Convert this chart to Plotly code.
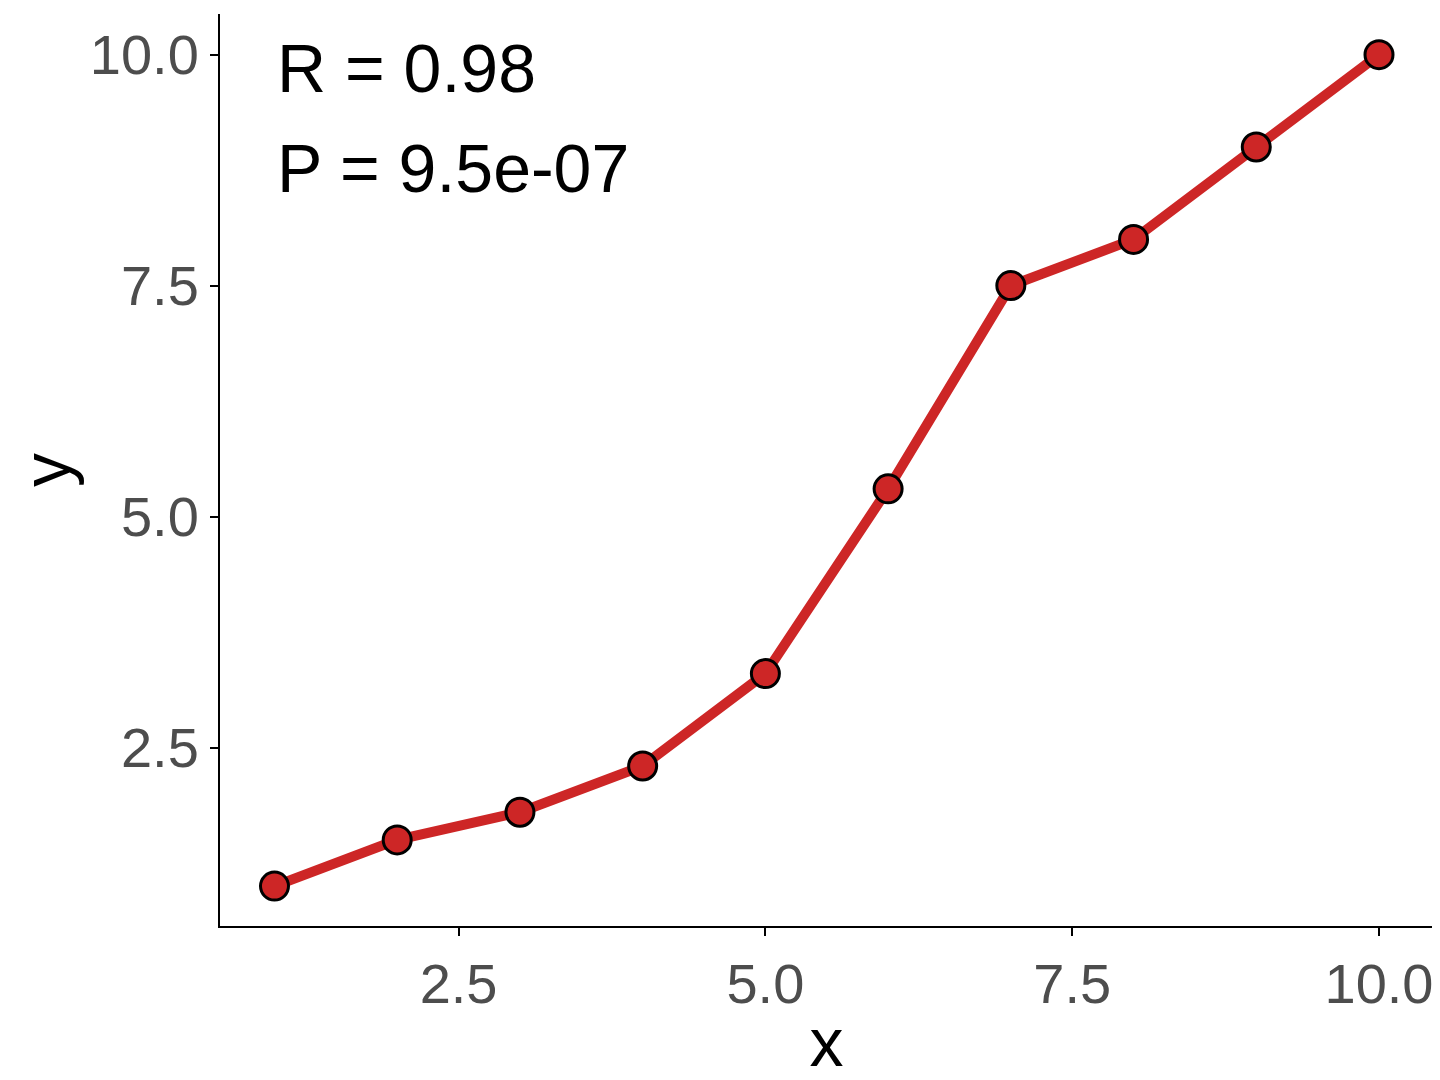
import plotly.graph_objects as go

x_vals = [1, 2, 3, 4, 5, 6, 7, 8, 9, 10]
y_vals = [1.0, 1.5, 1.8, 2.3, 3.3, 5.3, 7.5, 8.0, 9.0, 10.0]
tick_vals = [2.5, 5.0, 7.5, 10.0]
tick_text = ["2.5", "5.0", "7.5", "10.0"]
stats_lines = ["R = 0.98", "P = 9.5e-07"]

fig = go.Figure()
fig.add_trace(go.Scatter(
    x=x_vals, y=y_vals, mode="lines+markers",
    line=dict(color="#CD2626", width=10),
    marker=dict(size=28, color="#CD2626", line=dict(color="black", width=3)),
    showlegend=False,
))

axis_common = dict(
    showgrid=False, zeroline=False, showline=True, linecolor="black", linewidth=2,
    ticks="outside", ticklen=8, tickcolor="black", tickwidth=2,
    tickvals=tick_vals, ticktext=tick_text,
    tickfont=dict(size=56, color="#4D4D4D", family="Liberation Sans"),
    title_font=dict(size=68, color="black", family="Liberation Sans"),
)
fig.update_xaxes(range=[0.556, 10.44], title_text="x", title_standoff=4, **axis_common)
fig.update_yaxes(range=[0.568, 10.44], title_text="y", title_standoff=8, **axis_common)

for i, line in enumerate(stats_lines):
    fig.add_annotation(
        x=0.045, y=0.985 - i * 0.11, xref="paper", yref="paper",
        xanchor="left", yanchor="top",
        text=line, showarrow=False, align="left",
        font=dict(size=68, color="black", family="Liberation Sans"),
    )

fig.update_layout(
    width=1440, height=1080,
    plot_bgcolor="white", paper_bgcolor="white",
    margin=dict(l=212, r=15, t=6, b=162),
)
fig.write_html("out.html")
